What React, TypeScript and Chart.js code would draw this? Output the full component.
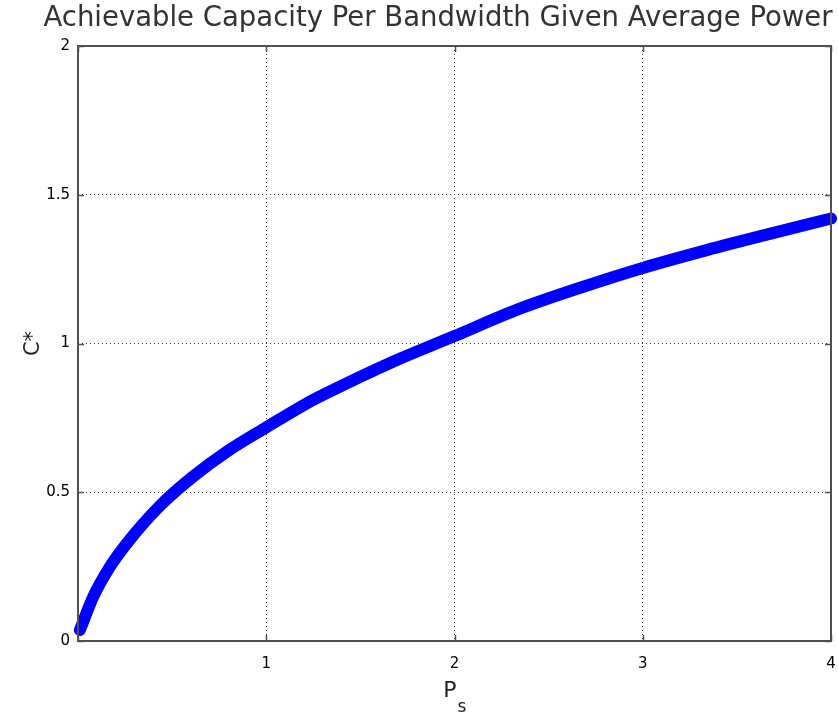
import React, { useEffect, useRef } from 'react';
import { Chart, registerables } from 'chart.js';

Chart.register(...registerables);

const powerValues = [0.01, 0.081, 0.17, 0.259, 0.436, 0.61, 0.79, 1.0, 1.21, 1.32, 1.67, 2.0, 2.33, 2.68, 3.0, 3.34, 3.69, 4.0];
const capacityValues = [0.037, 0.149, 0.25, 0.328, 0.455, 0.552, 0.636, 0.718, 0.797, 0.833, 0.938, 1.025, 1.113, 1.19, 1.254, 1.314, 1.371, 1.42];
const xTickValues = [0, 1, 2, 3, 4];
const yTickValues = [0, 0.5, 1, 1.5, 2];
const titleText = 'Achievable Capacity Per Bandwidth Given Average Power';
const xAxisMain = 'P';
const xAxisSub = 's';
const yAxisText = 'C*';

const FONT = '"DejaVu Sans", "Liberation Sans", sans-serif';

const framePlugin = {
  id: 'framePlugin',
  afterDraw(chart: any) {
    const { ctx, chartArea: a, scales } = chart;
    const xs = scales.x;
    const ys = scales.y;
    ctx.save();
    ctx.strokeStyle = '#505050';
    ctx.lineWidth = 2;
    ctx.setLineDash([]);
    ctx.strokeRect(a.left, a.top, a.right - a.left, a.bottom - a.top);
    ctx.lineWidth = 1.5;
    const tl = 6;
    xTickValues.forEach((v) => {
      const px = Math.round(xs.getPixelForValue(v)) + 0.5;
      ctx.beginPath();
      ctx.moveTo(px, a.bottom);
      ctx.lineTo(px, a.bottom - tl);
      ctx.moveTo(px, a.top);
      ctx.lineTo(px, a.top + tl);
      ctx.stroke();
    });
    yTickValues.forEach((v) => {
      const py = Math.round(ys.getPixelForValue(v)) + 0.5;
      ctx.beginPath();
      ctx.moveTo(a.left, py);
      ctx.lineTo(a.left + tl, py);
      ctx.moveTo(a.right, py);
      ctx.lineTo(a.right - tl, py);
      ctx.stroke();
    });
    ctx.fillStyle = '#333';
    ctx.font = `27.5px ${FONT}`;
    ctx.textAlign = 'center';
    ctx.textBaseline = 'alphabetic';
    ctx.fillText(titleText, 438, 26);
    const cx = (a.left + a.right) / 2;
    ctx.fillStyle = '#222';
    ctx.font = `22px ${FONT}`;
    ctx.textAlign = 'right';
    ctx.fillText(xAxisMain, cx + 2, 697);
    ctx.font = `17px ${FONT}`;
    ctx.textAlign = 'left';
    ctx.fillText(xAxisSub, cx + 3, 712);
    ctx.translate(39, (a.top + a.bottom) / 2);
    ctx.rotate(-Math.PI / 2);
    ctx.font = `21px ${FONT}`;
    ctx.textAlign = 'center';
    ctx.fillText(yAxisText, 0, 0);
    ctx.restore();
  },
};

export default function App() {
  const canvasRef = useRef<HTMLCanvasElement>(null);

  useEffect(() => {
    const canvas = canvasRef.current;
    if (!canvas) return;
    const points = powerValues.map((p, i) => ({ x: p, y: capacityValues[i] }));
    const edgeX = (v: number) => v === xTickValues[0] || v === xTickValues[xTickValues.length - 1];
    const edgeY = (v: number) => v === yTickValues[0] || v === yTickValues[yTickValues.length - 1];
    const zeroPad = (s: any) => {
      s.paddingLeft = 0;
      s.paddingRight = 0;
      s.paddingTop = 0;
      s.paddingBottom = 0;
    };
    const chart = new Chart(canvas, {
      type: 'line',
      data: {
        datasets: [
          {
            data: points,
            borderColor: '#0000ff',
            backgroundColor: '#0000ff',
            borderWidth: 12,
            borderCapStyle: 'round',
            borderJoinStyle: 'round',
            pointRadius: 0,
            cubicInterpolationMode: 'monotone',
            fill: false,
            clip: false as any,
          },
        ],
      },
      options: {
        animation: false,
        responsive: false,
        devicePixelRatio: 1,
        layout: { padding: { top: 46, right: 7, left: 0, bottom: 0 } },
        plugins: {
          legend: { display: false },
          title: { display: false },
          tooltip: { enabled: false },
        },
        scales: {
          x: {
            type: 'linear',
            min: 0,
            max: 4,
            afterBuildTicks: (s: any) => {
              s.ticks = xTickValues.map((v) => ({ value: v }));
            },
            afterFit: (s: any) => {
              s.height = 76;
              zeroPad(s);
            },
            ticks: {
              callback: (v: any) => (v === 0 ? '' : String(v)),
              color: '#000',
              font: { family: FONT, size: 15 },
              padding: 14,
              maxRotation: 0,
              autoSkip: false,
            },
            grid: {
              drawTicks: false,
              color: (c: any) => (c.tick && edgeX(c.tick.value) ? 'rgba(0,0,0,0)' : '#333'),
              lineWidth: 1,
            },
            border: { display: false, dash: [1, 3] },
          },
          y: {
            type: 'linear',
            min: 0,
            max: 2,
            afterBuildTicks: (s: any) => {
              s.ticks = yTickValues.map((v) => ({ value: v }));
            },
            afterFit: (s: any) => {
              s.width = 78;
              zeroPad(s);
            },
            ticks: {
              callback: (v: any) => String(v),
              color: '#000',
              font: { family: FONT, size: 15 },
              padding: 8,
              autoSkip: false,
            },
            grid: {
              drawTicks: false,
              color: (c: any) => (c.tick && edgeY(c.tick.value) ? 'rgba(0,0,0,0)' : '#333'),
              lineWidth: 1,
            },
            border: { display: false, dash: [1, 3] },
          },
        },
      },
      plugins: [framePlugin],
    });
    return () => chart.destroy();
  }, []);

  return (
    <div style={{ position: 'absolute', left: 0, top: 0, width: 838, height: 717, background: '#fff' }}>
      <canvas ref={canvasRef} width={838} height={717} style={{ display: 'block' }} />
    </div>
  );
}
